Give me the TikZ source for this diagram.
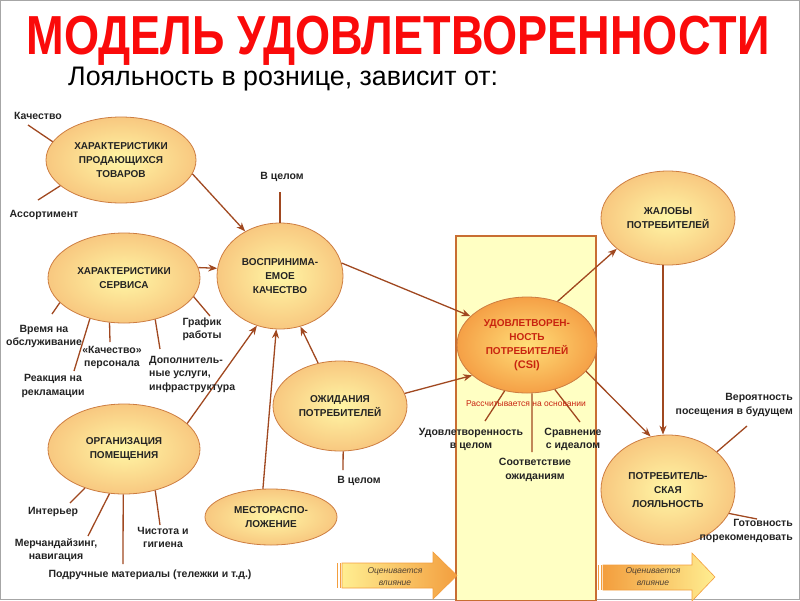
\documentclass[tikz,border=0pt]{standalone}
\usepackage{fontspec}
\usepackage{graphicx}
\setmainfont{Liberation Sans}
\usetikzlibrary{shapes.geometric,arrows.meta}

\definecolor{titlered}{RGB}{250,10,10}
\definecolor{linebrown}{RGB}{160,72,32}
\definecolor{bubbleline}{RGB}{205,125,65}
\definecolor{bubblein}{RGB}{255,246,165}
\definecolor{bubbleout}{RGB}{248,200,128}
\definecolor{csiin}{RGB}{255,222,120}
\definecolor{csiout}{RGB}{245,160,70}
\definecolor{csitext}{RGB}{200,35,15}
\definecolor{colfill}{RGB}{255,255,195}
\definecolor{colline}{RGB}{200,110,50}
\definecolor{lbltext}{RGB}{35,35,35}
\definecolor{evalyellow}{RGB}{255,238,145}
\definecolor{evalorange}{RGB}{243,158,62}
\definecolor{evaltext}{RGB}{80,65,50}

\begin{document}
\begin{tikzpicture}[x=1pt,y=-1pt,
    bubble/.style={ellipse,draw=bubbleline,line width=0.8pt,inner sep=0pt,
      inner color=bubblein,outer color=bubbleout,align=center,
      font=\fontsize{10}{14}\selectfont\bfseries,text=lbltext},
    csibubble/.style={bubble,inner color=csiin,outer color=csiout,text=csitext},
    leaf/.style={draw=linebrown,line width=1.3pt},
    arr/.style={leaf,-{Stealth[length=9pt,width=7pt]}},
    lbl/.style={align=center,inner sep=0pt,font=\fontsize{10.5}{13.5}\selectfont\bfseries,text=lbltext},
    evalarrow/.style={draw=evalorange,line width=0.6pt},
    evaltxt/.style={align=center,inner sep=0pt,font=\fontsize{8.5}{12}\selectfont\itshape,text=evaltext},
  ]
  \useasboundingbox (0,0) rectangle (800,600);
  \draw[gray!70,line width=1pt] (0.5,0.5) rectangle (799.5,599.5);

  % headings
  \node[anchor=base,inner sep=0pt] (title) at (398,54) {\scalebox{0.82}[1]{\fontsize{55}{58}\selectfont\bfseries\color{titlered}МОДЕЛЬ УДОВЛЕТВОРЕННОСТИ}};
  \node[anchor=base west,inner sep=0pt] (subtitle) at (68,85) {\fontsize{26.8}{28}\selectfont Лояльность в рознице, зависит от:};

  % column behind satisfaction
  \draw[draw=colline,fill=colfill,line width=1.2pt] (456,236) rectangle (596,601);

  % bubbles
  \node[bubble,minimum width=150pt,minimum height=86pt] (goods) at (121,160) {ХАРАКТЕРИСТИКИ\\ПРОДАЮЩИХСЯ\\ТОВАРОВ};
  \node[bubble,minimum width=152pt,minimum height=90pt] (service) at (124,278) {ХАРАКТЕРИСТИКИ\\СЕРВИСА};
  \node[bubble,minimum width=152pt,minimum height=90pt] (premises) at (124,449) {ОРГАНИЗАЦИЯ\\ПОМЕЩЕНИЯ};
  \node[bubble,minimum width=126pt,minimum height=106pt] (quality) at (280,276) {ВОСПРИНИМА-\\ЕМОЕ\\КАЧЕСТВО};
  \node[bubble,minimum width=134pt,minimum height=90pt] (expect) at (340,406) {ОЖИДАНИЯ\\ПОТРЕБИТЕЛЕЙ};
  \node[bubble,minimum width=132pt,minimum height=56pt] (location) at (271,517) {МЕСТОРАСПО-\\ЛОЖЕНИЕ};
  \node[csibubble,minimum width=140pt,minimum height=96pt] (csi) at (527,345) {УДОВЛЕТВОРЕН-\\НОСТЬ\\ПОТРЕБИТЕЛЕЙ\\{\fontsize{11}{14}\selectfont(CSI)}};
  \node[bubble,minimum width=134pt,minimum height=94pt] (complaints) at (668,218) {ЖАЛОБЫ\\ПОТРЕБИТЕЛЕЙ};
  \node[bubble,minimum width=134pt,minimum height=110pt] (loyalty) at (668,490) {ПОТРЕБИТЕЛЬ-\\СКАЯ\\ЛОЯЛЬНОСТЬ};

  % influences
  \draw[arr] (goods.-11) -- (quality.128);
  \draw[arr] (service.8) -- (quality.173);
  \draw[arr] (premises.22) -- (quality.245);
  \draw[arr] (location.106) -- (quality.266);
  \draw[arr] (expect.117) -- (quality.292);
  \draw[arr] (quality.12) -- (csi.153);
  \draw[arr] (expect.11) -- (csi.209);
  \draw[arr] (csi.55) -- (complaints.211);
  \draw[arr] (csi.-24) -- (loyalty.108);
  \draw[arr] ([xshift=-5pt]complaints.south) -- ([xshift=-5pt]loyalty.north);

  % labels of the factors
  \node[lbl] (lQual) at (38,116) {Качество};
  \node[lbl] (lAssort) at (44,215) {Ассортимент};
  \node[lbl] (lWhole) at (282,177) {В целом};
  \node[lbl] (lTime) at (44,336.5) {Время на\\обслуживание};
  \node[lbl] (lStaff) at (112,357.5) {«Качество»\\персонала};
  \node[lbl] (lClaims) at (53,386) {Реакция на\\рекламации};
  \node[lbl,anchor=west,align=left] (lExtra) at (149,374) {Дополнитель-\\ные услуги,\\инфраструктура};
  \node[lbl] (lHours) at (202,329.5) {График\\работы};
  \node[lbl] (lInterior) at (53,512) {Интерьер};
  \node[lbl] (lMerch) at (56,550) {Мерчандайзинг,\\навигация};
  \node[lbl] (lTools) at (150,575) {Подручные материалы (тележки и т.д.)};
  \node[lbl] (lClean) at (163,537.5) {Чистота и\\гигиена};
  \node[lbl] (lExpWhole) at (359,481) {В целом};
  \node[lbl] (lSatAll) at (471,439.5) {Удовлетворенность\\в целом};
  \node[lbl] (lMatch) at (535,470) {Соответствие\\ожиданиям};
  \node[lbl] (lIdeal) at (573,439.5) {Сравнение\\с идеалом};
  \node[lbl,anchor=east,align=right] (lRevisit) at (793,405) {Вероятность\\посещения в будущем};
  \node[lbl,anchor=east,align=right] (lRecommend) at (793,531) {Готовность\\порекомендовать};

  % free ends of the factor lines
  \coordinate (qualEnd) at (28,125);
  \coordinate (assortEnd) at (38,200);
  \coordinate (wholeEnd) at (280,192);
  \coordinate (timeEnd) at (52,314);
  \coordinate (claimsEnd) at (74,371);
  \coordinate (staffEnd) at (110,342);
  \coordinate (extraEnd) at (160,349);
  \coordinate (hoursEnd) at (210,316);
  \coordinate (interiorEnd) at (70,503);
  \coordinate (merchEnd) at (88,536);
  \coordinate (toolsEnd) at (123,564);
  \coordinate (cleanEnd) at (160,525);
  \coordinate (expWholeEnd) at (343,470);
  \coordinate (satAllEnd) at (485,421);
  \coordinate (matchEnd) at (532,452);
  \coordinate (idealEnd) at (580,422);
  \coordinate (revisitEnd) at (747,426);
  \coordinate (recommendEnd) at (757,519);

  \draw[leaf] (goods.165) -- (qualEnd);
  \draw[leaf] (goods.203) -- (assortEnd);
  \draw[leaf] (quality.north) -- (wholeEnd);
  \draw[leaf] (service.201) -- (timeEnd);
  \draw[leaf] (service.230) -- (claimsEnd);
  \draw[leaf] (service.252) -- (staffEnd);
  \draw[leaf] (service.307) -- (extraEnd);
  \draw[leaf] (service.345) -- (hoursEnd);
  \draw[leaf] (premises.225) -- (interiorEnd);
  \draw[leaf] (premises.252) -- (merchEnd);
  \draw[leaf] (premises.269) -- (toolsEnd);
  \draw[leaf] (premises.307) -- (cleanEnd);
  \draw[leaf] (expect.274) -- (expWholeEnd);
  \draw[leaf] (csi.244) -- (satAllEnd);
  \draw[leaf] (csi.276) -- (matchEnd);
  \draw[leaf] (csi.302) -- (idealEnd);
  \draw[leaf] (loyalty.38) -- (revisitEnd);
  \draw[leaf] (loyalty.339) -- (recommendEnd);

  \node[inner sep=0pt,font=\fontsize{8.5}{10}\selectfont,text=csitext] (basis) at (526,404) {Рассчитывается на основании};

  % evaluation arrows
  \draw[evalarrow,left color=evalyellow,right color=evalorange] (342,563) -- (433,563) -- (433,552) -- (457,575.5) -- (433,599) -- (433,588) -- (342,588) -- cycle;
  \draw[evalorange,line width=1pt] (337.5,563) -- (337.5,588) (340.2,563) -- (340.2,588);
  \node[evaltxt] (evalIn) at (395,577) {Оценивается\\влияние};
  \draw[evalarrow,left color=evalorange,right color=evalyellow] (603,565) -- (692,565) -- (692,553) -- (715,577) -- (692,601) -- (692,590) -- (603,590) -- cycle;
  \draw[evalorange,line width=1pt] (598.5,565) -- (598.5,590) (601.2,565) -- (601.2,590);
  \node[evaltxt] (evalOut) at (653,577) {Оценивается\\влияние};
\end{tikzpicture}
\end{document}
